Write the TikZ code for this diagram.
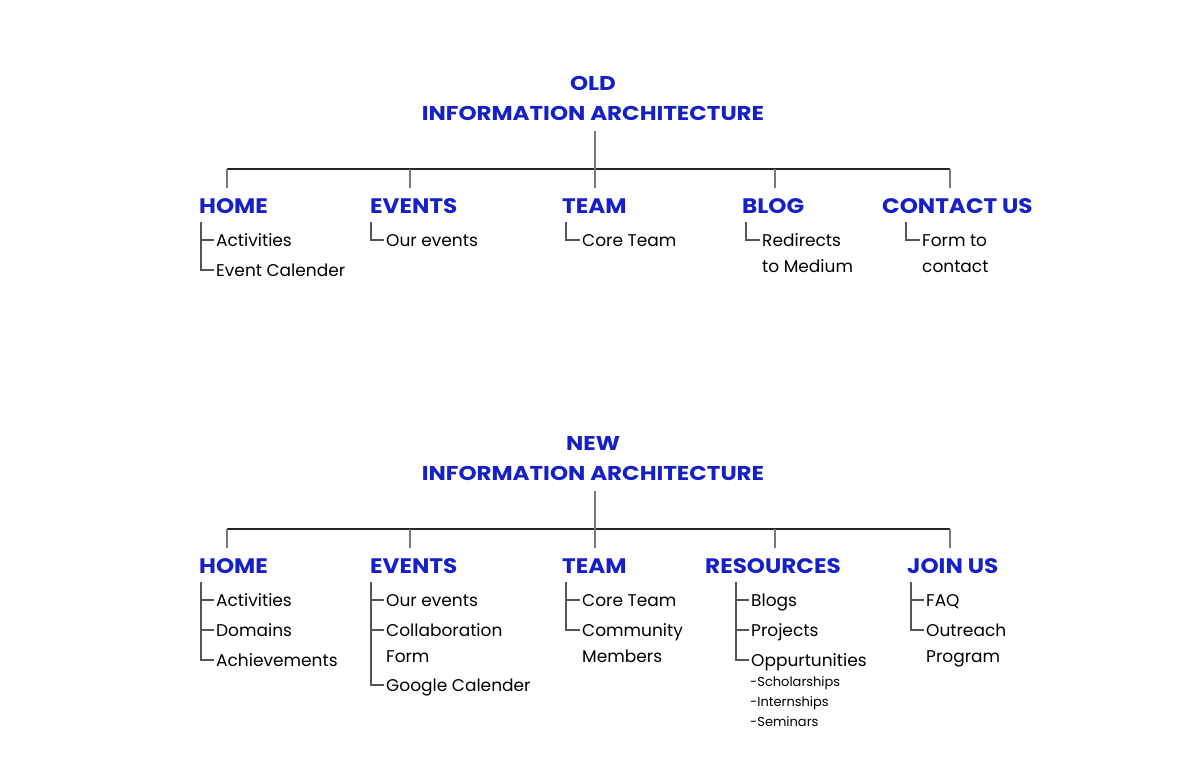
\documentclass[tikz,border=0pt]{standalone}
\usepackage{fontspec}
\setmainfont{Poppins}
\newfontfamily\headfnt[FakeStretch=1.1]{Poppins}
\newfontfamily\titlefnt[FakeStretch=1.15]{Poppins}
\usetikzlibrary{calc}
\definecolor{iablue}{RGB}{22,32,200}
\definecolor{treegray}{RGB}{85,85,85}
\definecolor{dropgray}{RGB}{120,120,120}
\begin{document}
\begin{tikzpicture}[x=1pt,y=-1pt,
 ttl/.style={font=\titlefnt\fontsize{20}{24}\selectfont\bfseries, text=iablue, inner sep=0, anchor=base},
 head/.style={font=\headfnt\fontsize{21}{24}\selectfont\bfseries, text=iablue, inner sep=0, anchor=base west},
 item/.style={font=\fontsize{17}{20}\selectfont, inner sep=0, anchor=base west},
 sub/.style={font=\fontsize{13}{15}\selectfont, inner sep=0, anchor=base west},
 bar/.style={line width=1.2pt, draw=black!85},
 drop/.style={line width=1.2pt, draw=dropgray},
 tree/.style={line width=1.2pt, draw=treegray}]
\useasboundingbox (0,0) rectangle (1186,768);

% ================= OLD =================
\node[ttl] (oT1) at (593,90) {OLD};
\node[ttl] (oT2) at (593,120) {INFORMATION ARCHITECTURE};
\coordinate (oTop) at (595,131);
\coordinate (oL) at (227,169);
\coordinate (oR) at (950,169);
\draw[bar] (oL) -- (oR);
\draw[drop] (oTop) -- (595,188);
\foreach \x in {227,410,775,950} \draw[drop] (\x,169) -- (\x,188);

\node[head] (oH1) at (199,213) {HOME};
\node[head] (oH2) at (370,213) {EVENTS};
\node[head] (oH3) at (562,213) {TEAM};
\node[head] (oH4) at (742,213) {BLOG};
\node[head] (oH5) at (882,213) {CONTACT US};

\node[item] (o11) at (216,246) {Activities};
\node[item] (o12) at (216,276) {Event Calender};
\node[item] (o21) at (386,246) {Our events};
\node[item] (o31) at (582,246) {Core Team};
\node[item] (o41) at (762,246) {Redirects};
\node[item] (o42) at (762,272) {to Medium};
\node[item] (o51) at (922,246) {Form to};
\node[item] (o52) at (922,272) {contact};

\draw[tree] (201,222) |- ($(o12.base west)+(-2,-6)$);
\draw[tree] (201,240) -- ($(o11.base west)+(-2,-6)$);
\draw[tree] (371,222) |- ($(o21.base west)+(-2,-6)$);
\draw[tree] (566,222) |- ($(o31.base west)+(-2,-6)$);
\draw[tree] (746,222) |- ($(o41.base west)+(-2,-6)$);
\draw[tree] (906,222) |- ($(o51.base west)+(-2,-6)$);

% ================= NEW =================
\node[ttl] (nT1) at (593,450) {NEW};
\node[ttl] (nT2) at (593,480) {INFORMATION ARCHITECTURE};
\coordinate (nTop) at (595,491);
\coordinate (nL) at (227,529);
\coordinate (nR) at (950,529);
\draw[bar] (nL) -- (nR);
\draw[drop] (nTop) -- (595,548);
\foreach \x in {227,410,775,950} \draw[drop] (\x,529) -- (\x,548);

\node[head] (nH1) at (199,573) {HOME};
\node[head] (nH2) at (370,573) {EVENTS};
\node[head] (nH3) at (562,573) {TEAM};
\node[head] (nH4) at (705,573) {RESOURCES};
\node[head] (nH5) at (907,573) {JOIN US};

\node[item] (n11) at (216,606) {Activities};
\node[item] (n12) at (216,636) {Domains};
\node[item] (n13) at (216,666) {Achievements};

\node[item] (n21) at (386,606) {Our events};
\node[item] (n22) at (386,636) {Collaboration};
\node[item] (n23) at (386,662) {Form};
\node[item] (n24) at (386,691) {Google Calender};

\node[item] (n31) at (582,606) {Core Team};
\node[item] (n32) at (582,636) {Community};
\node[item] (n33) at (582,662) {Members};

\node[item] (n41) at (751,606) {Blogs};
\node[item] (n42) at (751,636) {Projects};
\node[item] (n43) at (751,666) {Oppurtunities};
\node[sub] (n44) at (750,686) {-Scholarships};
\node[sub] (n45) at (750,706) {-Internships};
\node[sub] (n46) at (750,726) {-Seminars};

\node[item] (n51) at (926,606) {FAQ};
\node[item] (n52) at (926,636) {Outreach};
\node[item] (n53) at (926,662) {Program};

\draw[tree] (201,582) |- ($(n13.base west)+(-2,-6)$);
\draw[tree] (201,600) -- ($(n11.base west)+(-2,-6)$);
\draw[tree] (201,630) -- ($(n12.base west)+(-2,-6)$);

\draw[tree] (371,582) |- ($(n24.base west)+(-2,-6)$);
\draw[tree] (371,600) -- ($(n21.base west)+(-2,-6)$);
\draw[tree] (371,630) -- ($(n22.base west)+(-2,-6)$);

\draw[tree] (566,582) |- ($(n32.base west)+(-2,-6)$);
\draw[tree] (566,600) -- ($(n31.base west)+(-2,-6)$);

\draw[tree] (736,582) |- ($(n43.base west)+(-2,-6)$);
\draw[tree] (736,600) -- ($(n41.base west)+(-2,-6)$);
\draw[tree] (736,630) -- ($(n42.base west)+(-2,-6)$);

\draw[tree] (911,582) |- ($(n52.base west)+(-2,-6)$);
\draw[tree] (911,600) -- ($(n51.base west)+(-2,-6)$);
\end{tikzpicture}
\end{document}
